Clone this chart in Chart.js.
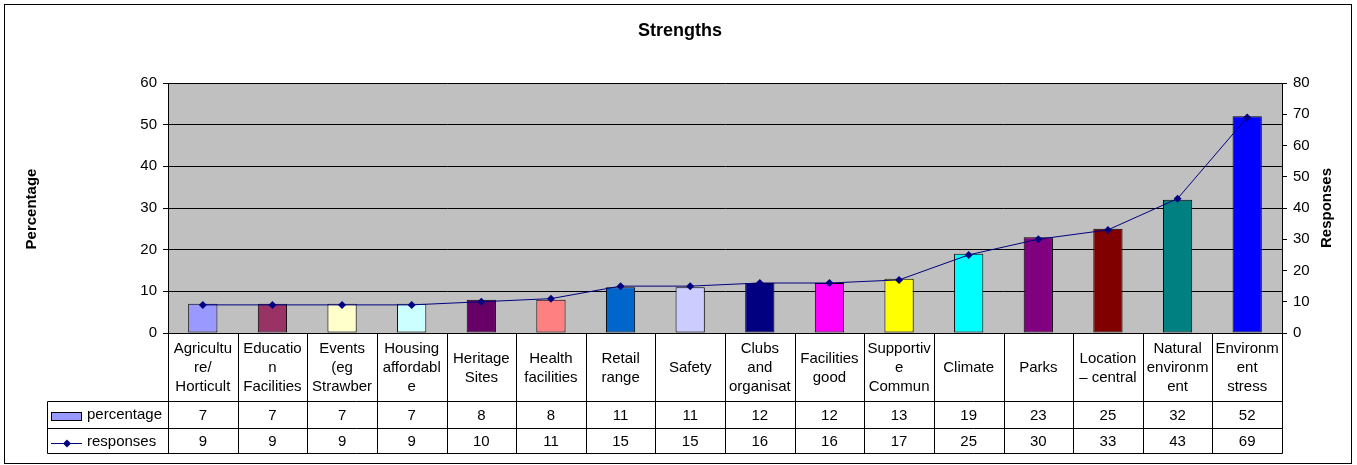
<!DOCTYPE html>
<html>
<head>
<meta charset="utf-8">
<script src="https://cdn.jsdelivr.net/npm/chart.js@4/dist/chart.umd.min.js"></script>
<style>
  html, body { margin: 0; padding: 0; background: #fff; }
  #wrap { width: 1357px; height: 465px; }
</style>
</head>
<body>
<div id="wrap"><canvas id="strengthsChart" width="1357" height="465"></canvas></div>
<script>
// Category names as they appear wrapped in the table cells
const categories = [
    ["Agricultu", "re/", "Horticult"],
    ["Educatio", "n", "Facilities"],
    ["Events", "(eg", "Strawber"],
    ["Housing", "affordabl", "e"],
    ["Heritage", "Sites"],
    ["Health", "facilities"],
    ["Retail", "range"],
    ["Safety"],
    ["Clubs", "and", "organisat"],
    ["Facilities", "good"],
    ["Supportiv", "e", "Commun"],
    ["Climate"],
    ["Parks"],
    ["Location", "\u2013 central"],
    ["Natural", "environm", "ent"],
    ["Environm", "ent", "stress"]
];

const percentage = [7, 7, 7, 7, 8, 8, 11, 11, 12, 12, 13, 19, 23, 25, 32, 52];
const responses = [9, 9, 9, 9, 10, 11, 15, 15, 16, 16, 17, 25, 30, 33, 43, 69];

const percentTicks = [0, 10, 20, 30, 40, 50, 60];
const responseTicks = [0, 10, 20, 30, 40, 50, 60, 70, 80];

// Excel-style palette, one colour per bar
const barColors = [
    "#9999FF", "#993366", "#FFFFCC", "#CCFFFF", "#660066", "#FF8080",
    "#0066CC", "#CCCCFF", "#000080", "#FF00FF", "#FFFF00", "#00FFFF",
    "#800080", "#800000", "#008080", "#0000FF"
];

const FONT = "'Liberation Sans', Arial, sans-serif";
const lineColor = "#000080";

// Grey plot background, outer frame, title and axis titles
const backgroundPlugin = {
    id: "background",
    beforeDraw(chart) {
        const { ctx, chartArea: a } = chart;
        ctx.save();
        ctx.fillStyle = "#fff";
        ctx.fillRect(0, 0, chart.width, chart.height);
        ctx.fillStyle = "#C0C0C0";
        ctx.fillRect(a.left, a.top, a.right - a.left, a.bottom - a.top);
        ctx.restore();
    }
};

const tablePlugin = {
    id: "dataTable",
    afterDraw(chart) {
        const { ctx, chartArea: a } = chart;
        const x = chart.scales.x;
        const n = categories.length;
        const colW = (a.right - a.left) / n;
        const legendLeft = 47;
        const rowTop = a.bottom;
        const row1 = 401, row2 = 428, row3 = 453;

        ctx.save();
        // outer frame
        ctx.strokeStyle = "#000";
        ctx.lineWidth = 1;
        ctx.strokeRect(4.5, 4.5, 1347, 459);

        // title
        ctx.fillStyle = "#000";
        ctx.textAlign = "center";
        ctx.textBaseline = "middle";
        ctx.font = "bold 18px " + FONT;
        ctx.fillText("Strengths", 680, 31);

        // axis titles
        ctx.font = "bold 15px " + FONT;
        ctx.save();
        ctx.translate(32, 209);
        ctx.rotate(-Math.PI / 2);
        ctx.fillText("Percentage", 0, 0);
        ctx.restore();
        ctx.save();
        ctx.translate(1327, 208);
        ctx.rotate(-Math.PI / 2);
        ctx.fillText("Responses", 0, 0);
        ctx.restore();

        // table grid
        ctx.beginPath();
        for (let i = 0; i <= n; i++) {
            const gx = Math.round(a.left + i * colW) + 0.5;
            ctx.moveTo(gx, rowTop);
            ctx.lineTo(gx, row3 + 0.5);
        }
        [row1, row2, row3].forEach(y => {
            ctx.moveTo(legendLeft + 0.5, y + 0.5);
            ctx.lineTo(Math.round(a.right) + 0.5, y + 0.5);
        });
        ctx.moveTo(legendLeft + 0.5, row1 + 0.5);
        ctx.lineTo(legendLeft + 0.5, row3 + 0.5);
        ctx.stroke();

        // category labels and values
        ctx.font = "15px " + FONT;
        const lineH = 19;
        const midLabel = (rowTop + row1) / 2 + 1;
        for (let i = 0; i < n; i++) {
            const cx = x.getPixelForValue(i);
            const lines = categories[i];
            const start = midLabel - (lines.length - 1) * lineH / 2;
            lines.forEach((t, k) => ctx.fillText(t, cx, start + k * lineH));
            ctx.fillText(String(percentage[i]), cx, (row1 + row2) / 2 + 1);
            ctx.fillText(String(responses[i]), cx, (row2 + row3) / 2 + 1);
        }

        // legend keys
        ctx.fillStyle = barColors[0];
        ctx.fillRect(51, 412, 30, 8);
        ctx.strokeStyle = "#000";
        ctx.strokeRect(51.5, 412.5, 30, 8);
        ctx.strokeStyle = lineColor;
        ctx.beginPath();
        ctx.moveTo(51, 443.5);
        ctx.lineTo(82, 443.5);
        ctx.stroke();
        ctx.fillStyle = lineColor;
        ctx.beginPath();
        ctx.moveTo(67, 439.5);
        ctx.lineTo(71, 443.5);
        ctx.lineTo(67, 447.5);
        ctx.lineTo(63, 443.5);
        ctx.closePath();
        ctx.fill();

        ctx.fillStyle = "#000";
        ctx.textAlign = "left";
        ctx.fillText("percentage", 87, 415);
        ctx.fillText("responses", 87, 442);
        ctx.restore();
    }
};

new Chart(document.getElementById("strengthsChart"), {
    type: "bar",
    data: {
        labels: categories,
        datasets: [
            {
                type: "line",
                label: "responses",
                data: responses,
                yAxisID: "y1",
                borderColor: lineColor,
                backgroundColor: lineColor,
                borderWidth: 1,
                pointStyle: "rectRot",
                pointRadius: 4,
                pointBorderWidth: 0,
                tension: 0,
                order: 1
            },
            {
                type: "bar",
                label: "percentage",
                data: percentage,
                yAxisID: "y",
                backgroundColor: barColors,
                borderColor: "#000",
                borderWidth: 1,
                borderSkipped: false,
                barPercentage: 0.42,
                categoryPercentage: 1,
                order: 2
            }
        ]
    },
    options: {
        responsive: false,
        animation: false,
        layout: { padding: { top: 83, bottom: 132, left: 0, right: 0 } },
        plugins: {
            legend: { display: false },
            title: { display: false },
            tooltip: { enabled: false }
        },
        scales: {
            x: { display: false },
            y: {
                position: "left",
                min: percentTicks[0],
                max: percentTicks[percentTicks.length - 1],
                afterBuildTicks: s => { s.ticks = percentTicks.map(v => ({ value: v })); },
                afterFit: s => { s.width = 168; },
                ticks: { color: "#000", padding: 6, font: { family: FONT, size: 15 } },
                grid: { color: "#000", tickColor: "#000", tickLength: 5, lineWidth: 1 },
                border: { color: "#000", width: 1 }
            },
            y1: {
                position: "right",
                min: responseTicks[0],
                max: responseTicks[responseTicks.length - 1],
                afterBuildTicks: s => { s.ticks = responseTicks.map(v => ({ value: v })); },
                afterFit: s => { s.width = 75; },
                ticks: { color: "#000", padding: 6, font: { family: FONT, size: 15 } },
                grid: { drawOnChartArea: false, tickColor: "#000", tickLength: 5 },
                border: { color: "#000", width: 1 }
            }
        }
    },
    plugins: [backgroundPlugin, tablePlugin]
});
</script>
</body>
</html>
